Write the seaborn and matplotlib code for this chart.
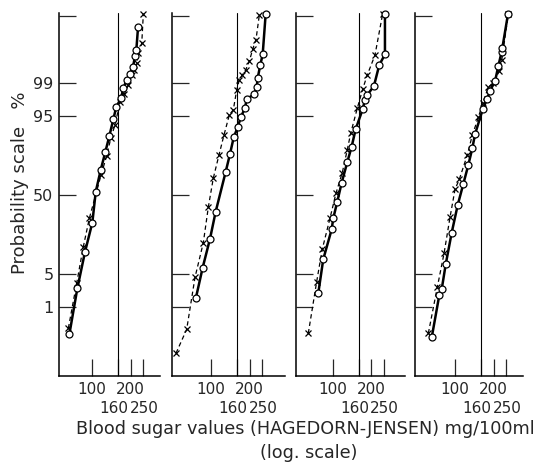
import math
from statistics import NormalDist

import numpy as np
import pandas as pd
import matplotlib
matplotlib.use("Agg")
import matplotlib.pyplot as plt
from matplotlib.ticker import FixedLocator, NullLocator
from matplotlib.transforms import ScaledTranslation
import seaborn as sns

# blood sugar (mg/100ml) and cumulative frequency (%)
P1_CIRCLE_MG = [66.5, 76.8, 88.2, 100.5, 106.9, 116.9, 127.0, 136.5, 146.7, 154.8,
                168.5, 175.6, 186.6, 198.0, 209.0, 216.7, 221.8, 228.7]
P1_CIRCLE_PCT = [0.185, 2.6, 11.9, 28.2, 52.7, 69.9, 81.5, 89.0, 94.3, 96.7,
                 97.8, 98.7, 99.17, 99.41, 99.62, 99.81, 99.874, 99.976]
P1_CROSS_MG = [65.3, 76.0, 85.5, 95.3, 117.6, 130.3, 140.0, 151.2, 165.5, 178.8,
               192.0, 204.3, 214.0, 223.5, 230.0, 244.5, 251.6]
P1_CROSS_PCT = [0.274, 3.4, 14.1, 31.4, 66.2, 79.4, 88.1, 92.8, 97.4, 98.23,
                98.9, 99.38, 99.54, 99.70, 99.84, 99.92, 99.992]

P2_CIRCLE_MG = [76.3, 86.1, 98.2, 108.8, 130.3, 140.8, 150.5, 161.7, 170.7, 184.4,
                190.1, 216.7, 227.5, 231.6, 242.7, 253.4, 267.5]
P2_CIRCLE_PCT = [1.62, 6.5, 18.0, 36.4, 68.6, 80.4, 88.5, 92.1, 94.7, 96.5,
                 97.7, 98.2, 98.76, 99.25, 99.66, 99.83, 99.992]
P2_CROSS_MG = [53.3, 64.6, 75.0, 87.1, 95.3, 104.2, 115.5, 126.3, 139.0, 149.4,
               158.8, 166.4, 175.6, 186.6, 199.1, 211.7, 224.7, 238.5]
P2_CROSS_PCT = [0.049, 0.257, 4.3, 16.0, 39.9, 63.6, 79.8, 89.4, 95.2, 96.2,
                98.56, 99.17, 99.38, 99.54, 99.73, 99.88, 99.94, 99.991]

P3_CIRCLE_MG = [77.2, 84.4, 98.2, 101.1, 108.6, 117.6, 130.0, 140.7, 151.2, 171.5,
                178.8, 186.4, 210.1, 231.2, 256.2, 256.2]
P3_CIRCLE_PCT = [2.03, 9.0, 23.7, 31.4, 44.4, 60.1, 75.2, 84.3, 91.45, 96.3,
                 97.6, 98.14, 98.84, 99.66, 99.83, 99.992]
P3_CROSS_MG = [64.5, 75.0, 82.9, 95.3, 106.1, 118.9, 130.0, 138.3, 155.7, 171.5,
               186.4, 214.0, 245.9]
P3_CROSS_PCT = [0.198, 3.55, 12.9, 31.4, 51.4, 67.9, 82.6, 90.06, 96.45, 98.62,
                99.38, 99.82, 99.992]

P4_CIRCLE_MG = [65.8, 75.4, 78.7, 84.6, 94.2, 105.0, 116.1, 127.0, 136.5, 143.3,
                164.6, 177.8, 187.6, 205.4, 217.9, 231.6, 234.2, 259.4]
P4_CIRCLE_PCT = [0.151, 1.86, 2.47, 7.44, 21.6, 41.8, 59.1, 73.4, 83.5, 89.7,
                 96.3, 97.7, 98.51, 99.11, 99.64, 99.86, 99.89, 99.992]
P4_CROSS_MG = [61.9, 72.7, 82.1, 91.4, 100.0, 108.0, 124.8, 136.5, 152.1, 164.6,
               182.0, 199.2, 221.8, 231.6, 260.9]
P4_CROSS_PCT = [0.198, 2.72, 11.2, 32.1, 54.7, 62.8, 79.8, 89.4, 94.7, 97.2,
                98.76, 99.04, 99.51, 99.75, 99.992]

Y_TICKS = [1, 5, 50, 95, 99, 99.99]
Y_TICK_LABELS = ["1", "5", "50", "95", "99", ""]
X_TICKS_ROW1 = [100, 200]
X_TICKS_ROW2 = [160, 250]
LIMIT_MG = 160

_nd = NormalDist()


def probit(pct):
    p = np.clip(np.asarray(pct, dtype=float) / 100.0, 1e-12, 1 - 1e-12)
    return np.vectorize(_nd.inv_cdf, otypes=[float])(p)


def inv_probit(z):
    z = np.asarray(z, dtype=float)
    return 50.0 * (1.0 + np.vectorize(math.erf, otypes=[float])(z / math.sqrt(2)))


sns.set_style("white")
plt.rcParams["font.family"] = ["DejaVu Sans"]

fig = plt.figure(figsize=(5.4, 4.67), dpi=100)

# panel boxes in pixels (left, right) and x limits that keep the same log scale
panels = [
    (59, 160, (55.2, 339.5), P1_CIRCLE_MG, P1_CIRCLE_PCT, P1_CROSS_MG, P1_CROSS_PCT),
    (172, 285, (49.6, 378.6), P2_CIRCLE_MG, P2_CIRCLE_PCT, P2_CROSS_MG, P2_CROSS_PCT),
    (296, 405, (51.7, 367.5), P3_CIRCLE_MG, P3_CIRCLE_PCT, P3_CROSS_MG, P3_CROSS_PCT),
    (415, 523, (48.7, 339.5), P4_CIRCLE_MG, P4_CIRCLE_PCT, P4_CROSS_MG, P4_CROSS_PCT),
]

W, H = 540, 467
top_px, bot_px = 13, 376

for i, (lpx, rpx, xlim, c_mg, c_pct, x_mg, x_pct) in enumerate(panels):
    ax = fig.add_axes([lpx / W, 1 - bot_px / H, (rpx - lpx) / W, (bot_px - top_px) / H])
    ax.set_xscale("log")
    ax.set_yscale("function", functions=(probit, inv_probit))

    circles = pd.DataFrame({"mg": c_mg, "pct": c_pct})
    crosses = pd.DataFrame({"mg": x_mg, "pct": x_pct})

    sns.lineplot(data=crosses, x="mg", y="pct", ax=ax, sort=False, estimator=None,
                 color="black", linewidth=0.9, linestyle=(0, (3.5, 2.5)),
                 marker="x", markersize=5, markeredgecolor="black",
                 markeredgewidth=0.9, clip_on=False, zorder=3)
    sns.lineplot(data=circles, x="mg", y="pct", ax=ax, sort=False, estimator=None,
                 color="black", linewidth=1.8, marker="o", markersize=5,
                 markerfacecolor="white", markeredgecolor="black",
                 markeredgewidth=0.9, clip_on=False, zorder=4)

    ax.axvline(LIMIT_MG, color="black", linewidth=0.8, zorder=1)

    ax.set_xlim(*xlim)
    ax.set_ylim(0.00816, 99.9925)

    # two rows of x labels: 100/200 on top, 160/250 underneath
    ax.xaxis.set_major_locator(FixedLocator(X_TICKS_ROW1))
    ax.xaxis.set_minor_locator(FixedLocator(X_TICKS_ROW2))
    ax.set_xticklabels([str(v) for v in X_TICKS_ROW1])
    ax.set_xticklabels([str(v) for v in X_TICKS_ROW2], minor=True)
    ax.tick_params(axis="x", which="major", direction="in", length=12, width=0.9,
                   pad=4, labelsize=11, bottom=True)
    ax.tick_params(axis="x", which="minor", direction="in", length=12, width=0.9,
                   pad=18, labelsize=11, bottom=True)
    minor_labels = ax.get_xticklabels(minor=True)
    minor_labels[0].set_transform(minor_labels[0].get_transform()
                                  + ScaledTranslation(-4 / 100, 0, fig.dpi_scale_trans))
    minor_labels[1].set_transform(minor_labels[1].get_transform()
                                  + ScaledTranslation(1 / 100, 0, fig.dpi_scale_trans))

    ax.set_yticks(Y_TICKS)
    ax.yaxis.set_minor_locator(NullLocator())
    if i == 0:
        ax.set_yticklabels(Y_TICK_LABELS)
    else:
        ax.set_yticklabels([])
    ax.tick_params(axis="y", which="major", direction="in", length=12, width=0.9,
                   pad=4, labelsize=11.5, left=True, right=False)

    for side in ("top", "right"):
        ax.spines[side].set_visible(False)
    for side in ("left", "bottom"):
        ax.spines[side].set_linewidth(1.1)
        ax.spines[side].set_color("black")

    ax.set_xlabel("")
    ax.set_ylabel("")

fig.text(20 / W, 1 - 183 / H, "Probability scale   %", rotation=90,
         ha="center", va="center", fontsize=13)
fig.text(305 / W, 1 - 429 / H, "Blood sugar values (HAGEDORN-JENSEN) mg/100ml",
         ha="center", va="center", fontsize=12.7)
fig.text(309 / W, 1 - 453 / H, "(log. scale)", ha="center", va="center", fontsize=12.7)

fig.savefig("out.png", dpi=100)
